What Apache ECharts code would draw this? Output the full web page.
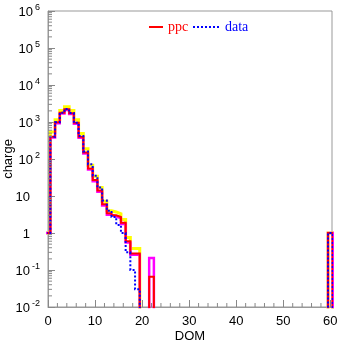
<!DOCTYPE html>
<html>
<head>
<meta charset="utf-8">
<script src="https://cdn.jsdelivr.net/npm/echarts@6/dist/echarts.min.js"></script>
<style>html,body{margin:0;padding:0;background:#fff}#c{width:337px;height:344px}</style>
</head>
<body>
<div id="c"></div>
<script>
// DOM bins (centred on integers); bins not listed are empty
const doms    = [0, 1, 2, 3, 4, 5, 6, 7, 8, 9, 10, 11, 12, 13, 14, 15, 16, 17, 18, 19, 20, 21, 22, 60];
const ppc     = [1, 400, 980, 1780, 2200, 1730, 950, 400, 150, 55, 27, 14, 6.0, 3.4, 3.0, 2.7, 1.9, 0.6, 0.28, 0.28, 0, 0, 0.066, 1];
const ppcAlt  = [1, 380, 930, 1700, 2100, 1650, 890, 375, 140, 52, 25, 13, 5.5, 3.1, 2.8, 2.5, 1.75, 0.55, 0.26, 0.26, 0, 0, 0.21, 1];
const ppcUp   = [1, 540, 1150, 2050, 2600, 2050, 1150, 490, 190, 68, 34, 17, 7.2, 4.0, 3.7, 3.3, 2.3, 0.75, 0.38, 0.38, 0, 0, 0, 1];
const data    = [1, 400, 980, 1780, 2250, 1750, 950, 420, 160, 72, 35, 17, 7.5, 4.0, 2.7, 1.65, 1.0, 0.3, 0.1, 0.03, 0, 0, 0, 1];
const xTicks  = [0, 10, 20, 30, 40, 50, 60];

const FLOOR = 1e-6; // empty bins drawn below the visible range
function steps(vals) {
  const m = {};
  doms.forEach((d, i) => { m[d] = vals[i]; });
  const pts = [];
  for (let n = 0; n <= 60; n++) {
    const v = m[n] ? m[n] : FLOOR;
    pts.push([n - 0.5, v], [n + 0.5, v]);
  }
  pts.push([60.5, FLOOR]);
  return pts;
}

// minor tick positions
const minorTicks = [];
for (let k = -2; k < 6; k++) for (let mm = 2; mm <= 9; mm++) minorTicks.push([0, mm * Math.pow(10, k), 'y']);
for (let x = 2; x < 60; x += 2) if (x % 10 !== 0) minorTicks.push([x, 0.01, 'x']);

const chart = echarts.init(document.getElementById('c'), null, {renderer: 'canvas'});
const sans = 'Liberation Sans, Arial, sans-serif';
const serif = 'Liberation Serif, Times New Roman, serif';

function lineSeries(name, vals, color, width, type, z) {
  return {
    name: name, type: 'line', data: steps(vals), symbol: 'none', showSymbol: false,
    lineStyle: {color: color, width: width, type: type, cap: 'butt', join: 'miter'},
    itemStyle: {color: color}, z: z, animation: false, clip: true
  };
}

chart.setOption({
  animation: false,
  grid: {left: 48, right: 5, top: 11, bottom: 37, show: true, borderColor: '#999', borderWidth: 1,
         containLabel: false, outerBoundsMode: 'none'},
  legend: [
    {data: ['ppc'], left: 143, top: 15, itemWidth: 14, itemHeight: 14, itemGap: 5,
     itemStyle: {opacity: 0},
     textStyle: {color: '#ff0000', fontFamily: serif, fontSize: 14}},
    {data: ['data'], left: 187, top: 15, itemWidth: 27, itemHeight: 14, itemGap: 5,
     itemStyle: {opacity: 0},
     textStyle: {color: '#0000ff', fontFamily: serif, fontSize: 14}}
  ],
  xAxis: {
    type: 'value', min: 0, max: 60.35,
    name: 'DOM', nameLocation: 'middle', nameGap: 23, nameMoveOverlap: false,
    nameTextStyle: {fontFamily: sans, fontSize: 13, color: '#000'},
    axisLine: {show: true, lineStyle: {color: '#999'}},
    axisTick: {inside: true, length: 7, customValues: xTicks, lineStyle: {color: '#888'}},
    axisLabel: {customValues: xTicks, fontFamily: sans, fontSize: 13, color: '#000', margin: 8},
    splitLine: {show: false}
  },
  yAxis: {
    type: 'log', logBase: 10, min: 0.01, max: 1e6, interval: 1,
    name: 'charge', nameLocation: 'middle', nameGap: 33, nameMoveOverlap: false,
    nameTextStyle: {fontFamily: sans, fontSize: 13, color: '#000'},
    axisLine: {show: true, lineStyle: {color: '#999'}},
    axisTick: {inside: true, length: 7, lineStyle: {color: '#888'}},
    axisLabel: {
      fontFamily: sans, fontSize: 13, color: '#000', margin: 8,
      formatter: function (v) {
        const e = Math.round(Math.log10(v));
        if (e === 0) return '{b|1}{s| }';
        if (e === 1) return '{b|10}{s| }';
        return '{b|10}{e|' + e + '}';
      },
      rich: {
        b: {fontFamily: sans, fontSize: 13, lineHeight: 16, verticalAlign: 'bottom', color: '#000'},
        e: {fontFamily: sans, fontSize: 9, lineHeight: 9, verticalAlign: 'top', color: '#000', padding: [0, 0, 0, 2]},
        s: {fontSize: 9, width: 10}
      }
    },
    splitLine: {show: false}
  },
  series: [
    lineSeries('ppcUp', ppcUp, '#ffff00', 3, 'solid', 1),
    lineSeries('ppcAlt', ppcAlt, '#ff00ff', 2.5, 'solid', 2),
    lineSeries('ppc', ppc, '#ff0000', 2, 'solid', 3),
    lineSeries('data', data, '#0000ff', 2, [2, 2], 4),
    {
      type: 'custom', data: minorTicks, silent: true, z: 5, clip: false,
      renderItem: function (params, api) {
        const p = api.coord([api.value(0), api.value(1)]);
        const kind = minorTicks[params.dataIndex][2];
        if (kind === 'y') {
          return {type: 'line', shape: {x1: p[0], y1: p[1], x2: p[0] + 4, y2: p[1]}, style: {stroke: '#888', lineWidth: 1}};
        }
        return {type: 'line', shape: {x1: p[0], y1: p[1], x2: p[0], y2: p[1] - 4}, style: {stroke: '#888', lineWidth: 1}};
      }
    }
  ]
});
</script>
</body>
</html>
